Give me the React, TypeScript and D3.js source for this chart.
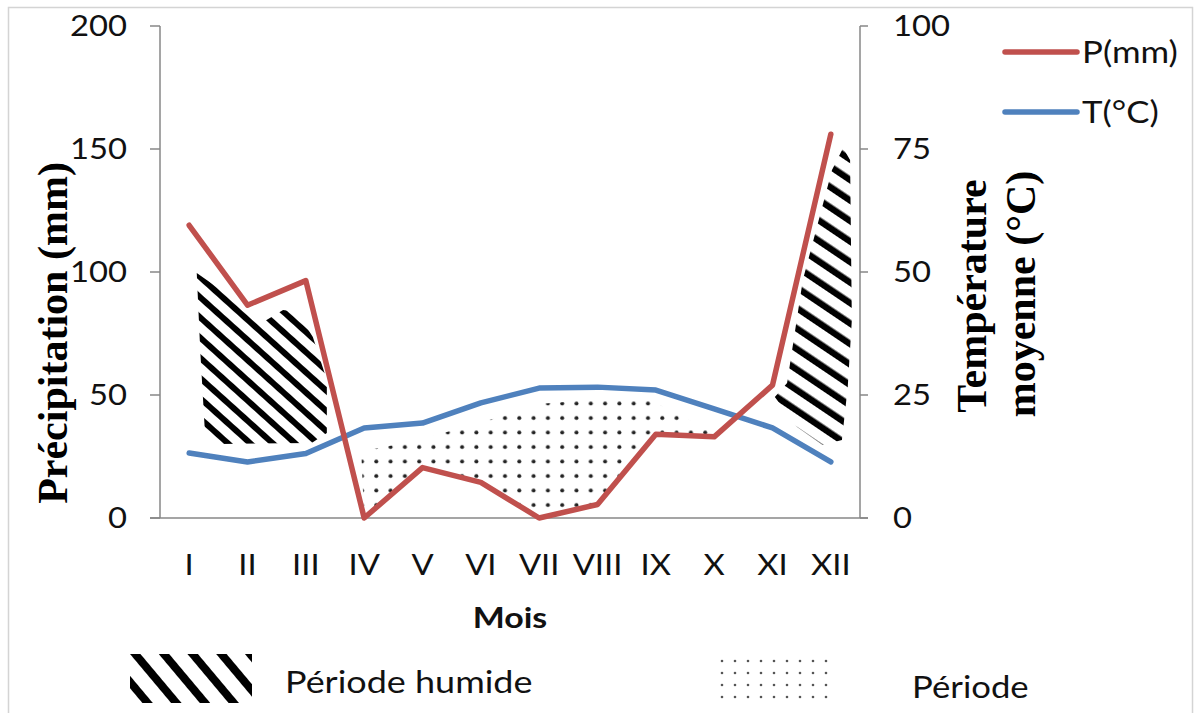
import React from "react";
import * as d3 from "d3";

const months = ["I", "II", "III", "IV", "V", "VI", "VII", "VIII", "IX", "X", "XI", "XII"];
const precip = [119, 86.5, 96.5, 0, 20.5, 14.5, 0, 5.5, 34, 33, 54, 156];
const temp = [13.2, 11.4, 13.1, 18.3, 19.3, 23.4, 26.4, 26.6, 26, 22.2, 18.3, 11.4];
const precipTicks = [0, 50, 100, 150, 200];
const tempTicks = [0, 25, 50, 75, 100];

// hand drawn outlines of the shaded periods (month position, mm)
const humid1Month = [0.13, 0.91, 1.27, 1.61, 1.85, 2.12, 2.36, 2.36, 2.1, 0.53, 0.27, 0.19];
const humid1Mm = [99.6, 86.6, 79.7, 84.6, 83.7, 73.6, 56.1, 34.6, 30.5, 30.1, 35, 68];
const humid2Month = [11.21, 11.33, 11.36, 11.29, 11.19, 10.86, 10.42, 10.04, 10.25, 10.52, 11.02];
const humid2Mm = [150.4, 145.5, 80.5, 53.3, 31.7, 29.7, 37, 49.2, 54.9, 96.7, 141.5];
const dryTopMonth = [2.95, 3.9, 5.1, 6.1, 7.3, 7.9, 8.8, 9.0];
const dryTopMm = [27, 31.5, 39.5, 46.5, 48.8, 48, 37, 34];
const dryFrom = 3; // IV
const dryTo = 8; // IX

const RED = "#C0504D";
const BLUE = "#4F81BD";
const AXIS = "#878787";
const SANS = "Lato, 'Open Sans', sans-serif";
const SERIF = "'Liberation Serif', 'DejaVu Serif', serif";

// sans label, a bit wider than Lato to look like the original Calibri
function Txt({ x, y, size = 29, anchor = "start", bold = false, sx = 1.13, children }: any) {
  return (
    <text
      transform={`translate(${x},${y}) scale(${sx},1)`}
      textAnchor={anchor}
      fontFamily={SANS}
      fontSize={size}
      fontWeight={bold ? "bold" : "normal"}
      fill="#111"
    >
      {children}
    </text>
  );
}

export default function App() {
  const width = 1197;
  const height = 713;
  const margin = { left: 160, right: 860, top: 26, bottom: 518 };

  const xBand = d3.scaleBand().domain(months).range([margin.left, margin.right]);
  const half = xBand.bandwidth() / 2;
  // month index -> pixel, for the shaded outlines
  const xPos = d3
    .scaleLinear()
    .domain([0, months.length - 1])
    .range([xBand(months[0])! + half, xBand(months[months.length - 1])! + half]);
  const yP = d3.scaleLinear().domain([0, 200]).range([margin.bottom, margin.top]);
  const yT = d3.scaleLinear().domain([0, 100]).range([margin.bottom, margin.top]);

  const pLine = d3
    .line<number>()
    .x((d, i) => xPos(i))
    .y((d) => yP(d));
  const tLine = d3
    .line<number>()
    .x((d, i) => xPos(i))
    .y((d) => yT(d));

  const poly = d3
    .line<[number, number]>()
    .x((d) => xPos(d[0]))
    .y((d) => yP(d[1]))
    .curve(d3.curveLinearClosed);

  const humid1 = poly(humid1Month.map((m, i) => [m, humid1Mm[i]]));
  const humid2 = poly(humid2Month.map((m, i) => [m, humid2Mm[i]]));
  const dryPts: [number, number][] = dryTopMonth.map((m, i) => [m, dryTopMm[i]]);
  for (let i = dryTo; i >= dryFrom; i--) dryPts.push([i, precip[i]]);
  const dry = poly(dryPts);

  return (
    <svg
      width={width}
      height={height}
      style={{ position: "absolute", left: 0, top: 0, background: "#fff" }}
    >
      <defs>
        <pattern id="hatch1" width={15} height={15} patternUnits="userSpaceOnUse" patternTransform="rotate(-48)">
          <rect x={0} y={0} width={6} height={15} fill="#000" />
        </pattern>
        <pattern id="hatch2" width={17} height={17} patternUnits="userSpaceOnUse" patternTransform="rotate(-56)">
          <rect x={0} y={0} width={6.5} height={17} fill="#000" />
        </pattern>
        <pattern id="hatchLegend" width={22} height={22} patternUnits="userSpaceOnUse" patternTransform="translate(130,654) rotate(-40)">
          <rect x={0} y={0} width={8} height={22} fill="#000" />
        </pattern>
        <pattern id="dots" width={14.3} height={14.5} patternUnits="userSpaceOnUse" x={355} y={440}>
          <circle cx={7} cy={7} r={2} fill="#222" />
        </pattern>
        <pattern id="dotsLegend" width={13} height={12} patternUnits="userSpaceOnUse" x={716} y={655}>
          <circle cx={6} cy={6} r={1.3} fill="#555" />
        </pattern>
      </defs>

      {/* frame */}
      <rect x={8.5} y={7.5} width={1184} height={740} fill="none" stroke="#d4d4d4" strokeWidth={1.5} />

      {/* shaded periods */}
      <path d={humid1 ?? ""} fill="url(#hatch1)" />
      <path d={humid2 ?? ""} fill="url(#hatch2)" />
      <path d={dry ?? ""} fill="url(#dots)" />

      {/* axes */}
      <line x1={margin.left} x2={margin.left} y1={margin.top} y2={margin.bottom} stroke={AXIS} strokeWidth={1.5} />
      <line x1={margin.right} x2={margin.right} y1={margin.top} y2={margin.bottom} stroke={AXIS} strokeWidth={1.5} />
      <line x1={margin.left - 10} x2={margin.right + 8} y1={margin.bottom} y2={margin.bottom} stroke={AXIS} strokeWidth={1.5} />
      {precipTicks.map((t) => (
        <g key={"pt" + t}>
          <line x1={margin.left - 10} x2={margin.left} y1={yP(t)} y2={yP(t)} stroke={AXIS} strokeWidth={1.5} />
          <Txt x={margin.left - 33} y={yP(t) + 10} anchor="end">
            {t}
          </Txt>
        </g>
      ))}
      {tempTicks.map((t) => (
        <g key={"tt" + t}>
          <line x1={margin.right} x2={margin.right + 8} y1={yT(t)} y2={yT(t)} stroke={AXIS} strokeWidth={1.5} />
          <Txt x={margin.right + 33} y={yT(t) + 10}>
            {t}
          </Txt>
        </g>
      ))}
      {months.map((m) => (
        <Txt key={m} x={xBand(m)! + half} y={575} anchor="middle">
          {m}
        </Txt>
      ))}

      {/* series */}
      <path d={tLine(temp) ?? ""} fill="none" stroke={BLUE} strokeWidth={5.5} strokeLinejoin="round" strokeLinecap="round" />
      <path d={pLine(precip) ?? ""} fill="none" stroke={RED} strokeWidth={5.5} strokeLinejoin="round" strokeLinecap="round" />

      {/* axis titles */}
      <Txt x={(margin.left + margin.right) / 2} y={628} anchor="middle" bold sx={1.17}>
        Mois
      </Txt>
      <text transform="translate(67,333) rotate(-90)" textAnchor="middle" fontFamily={SERIF} fontWeight="bold" fontSize={42} fill="#000">
        Précipitation (mm)
      </text>
      <text transform="translate(986,296) rotate(-90)" textAnchor="middle" fontFamily={SERIF} fontWeight="bold" fontSize={42} fill="#000">
        Température
      </text>
      <text transform="translate(1035,294) rotate(-90)" textAnchor="middle" fontFamily={SERIF} fontWeight="bold" fontSize={42} fill="#000">
        moyenne (°C)
      </text>

      {/* series legend */}
      <line x1={1005} x2={1077} y1={52} y2={52} stroke={RED} strokeWidth={5.5} strokeLinecap="round" />
      <Txt x={1082} y={63} size={30} sx={1.16}>
        P(mm)
      </Txt>
      <line x1={1005} x2={1077} y1={112} y2={112} stroke={BLUE} strokeWidth={5.5} strokeLinecap="round" />
      <Txt x={1082} y={123} size={30} sx={1.16}>
        T(°C)
      </Txt>

      {/* period legend */}
      <rect x={130} y={654} width={122} height={49} fill="url(#hatchLegend)" />
      <Txt x={285} y={693} size={31} sx={1.16}>
        Période humide
      </Txt>
      <rect x={716} y={655} width={120} height={50} fill="url(#dotsLegend)" />
      <Txt x={912} y={698} size={31} sx={1.12}>
        Période
      </Txt>
    </svg>
  );
}
